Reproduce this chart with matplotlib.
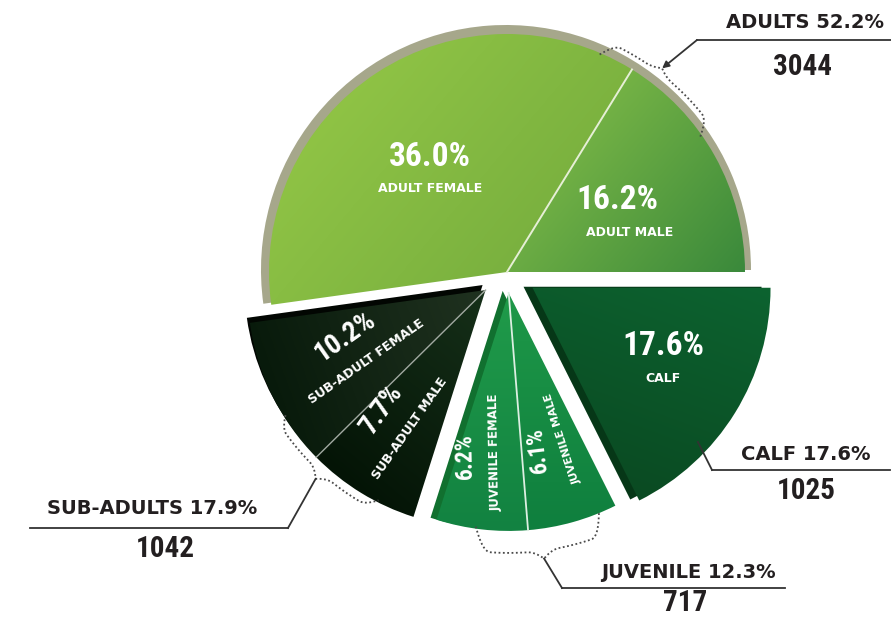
import numpy as np
import matplotlib
matplotlib.use("Agg")
import matplotlib.pyplot as plt
from matplotlib import font_manager as fm
from matplotlib.patches import Wedge
from matplotlib.colors import LinearSegmentedColormap

# population split, counter-clockwise from 3 o'clock
segments = ["ADULT MALE", "ADULT FEMALE", "SUB-ADULT FEMALE", "SUB-ADULT MALE",
            "JUVENILE FEMALE", "JUVENILE MALE", "CALF"]
shares = [16.2, 36.0, 10.2, 7.7, 6.2, 6.1, 17.6]
segment_group = ["ADULTS", "ADULTS", "SUB-ADULTS", "SUB-ADULTS",
                 "JUVENILE", "JUVENILE", "CALF"]

group_names = ["ADULTS", "SUB-ADULTS", "JUVENILE", "CALF"]
group_shares = [52.2, 17.9, 12.3, 17.6]
group_counts = [3044, 1042, 717, 1025]

W, H = 891, 617
CX, CY = 507, H - 272
R = 238

explode = {"ADULTS": 0, "SUB-ADULTS": 28, "JUVENILE": 21, "CALF": 30}
# (light, dark, gradient direction in degrees)
fills = {
    "ADULT MALE": ("#74b245", "#3a893b", -40),
    "ADULT FEMALE": ("#8fc345", "#7ab13f", -40),
    "SUB-ADULT FEMALE": ("#203220", "#081a0b", 200),
    "SUB-ADULT MALE": ("#163019", "#041406", 230),
    "JUVENILE FEMALE": ("#209b4a", "#128241", -90),
    "JUVENILE MALE": ("#1e9848", "#0f7f3e", -90),
    "CALF": ("#0d6330", "#0a4a22", -110),
}
# extruded side of each block: colour, shift, extra radius
sides = {
    "ADULTS": ("#a6a78b", (-1, 2), 7),
    "SUB-ADULTS": ("#020602", (-3, 5), 0),
    "JUVENILE": ("#11702f", (-6, 2), 0),
    "CALF": ("#063717", (-9, 1), 0),
}
divider = {"ADULTS": ("#e6efd6", 1.4), "SUB-ADULTS": ("#a2aaa2", 1.0),
           "JUVENILE": ("#dcefe2", 1.3)}


def pick(cands, **kw):
    for c in cands:
        try:
            fm.findfont(fm.FontProperties(family=c, **kw), fallback_to_default=False)
            return c
        except ValueError:
            continue
    return "DejaVu Sans"


num_font = pick(["Roboto Condensed", "Noto Sans Condensed", "Open Sans Condensed",
                 "Liberation Sans Narrow", "Liberation Sans"])
cond = dict(family=[num_font, "DejaVu Sans"], fontweight="bold")
plain = dict(family=["DejaVu Sans"], fontweight="bold")


def px(x, y):
    return x, H - y


def gradient_fill(ax, wedge, c0, c1, angle, z):
    ax.add_patch(wedge)
    cx, cy = wedge.center
    r = wedge.r
    x0, x1, y0, y1 = cx - r, cx + r, cy - r, cy + r
    xx, yy = np.meshgrid(np.linspace(x0, x1, 300), np.linspace(y0, y1, 300))
    ux, uy = np.cos(np.radians(angle)), np.sin(np.radians(angle))
    t = (xx - cx) * ux + (yy - cy) * uy
    v = wedge.get_path().vertices
    tv = (v[:, 0] - cx) * ux + (v[:, 1] - cy) * uy
    cmap = LinearSegmentedColormap.from_list("g", [c0, c1])
    im = ax.imshow(t, extent=(x0, x1, y0, y1), origin="lower", cmap=cmap,
                   vmin=tv.min(), vmax=tv.max(), zorder=z, interpolation="bilinear")
    im.set_clip_path(wedge)


def brace(center, a0, a1, am, lift, tip):
    th = np.linspace(a0, a1, 200)
    u = (th - a0) / (a1 - a0)
    um = (am - a0) / (a1 - a0)
    ramp = np.sin(np.clip(np.minimum(u, 1 - u) / 0.13, 0, 1) * np.pi / 2)
    peak = (1 - np.clip(np.abs(u - um) / 0.12, 0, 1)) ** 2
    r = R - 2 + lift * ramp + tip * peak
    xs = center[0] + r * np.cos(np.radians(th))
    ys = center[1] + r * np.sin(np.radians(th))
    rt = R - 2 + lift + tip
    cusp = (center[0] + rt * np.cos(np.radians(am)), center[1] + rt * np.sin(np.radians(am)))
    return xs, ys, cusp


fig = plt.figure(figsize=(W / 100, H / 100), dpi=100)
ax = fig.add_axes([0, 0, 1, 1])
ax.axis("off")

edges = np.concatenate([[0], np.cumsum(shares)]) * 3.6
centers = {}
spans = {}
for g in group_names:
    idx = [i for i, s in enumerate(segment_group) if s == g]
    a0, a1 = edges[idx[0]], edges[idx[-1] + 1]
    mid = np.radians((a0 + a1) / 2)
    d = explode[g]
    centers[g] = (CX + d * np.cos(mid), CY + d * np.sin(mid))
    spans[g] = (a0, a1)

# extruded sides behind each block
for g in group_names:
    col, (dx, dy), grow = sides[g]
    cx, cy = centers[g]
    a0, a1 = spans[g]
    ax.add_patch(Wedge((cx + dx, cy + dy), R + grow, a0, a1, facecolor=col,
                       edgecolor="none", zorder=1))

# shaded wedges
for i, name in enumerate(segments):
    g = segment_group[i]
    c0, c1, ang = fills[name]
    w = Wedge(centers[g], R, edges[i], edges[i + 1], facecolor="none", edgecolor="none")
    gradient_fill(ax, w, c0, c1, ang, 2)

# thin lines splitting each block
for i in range(1, len(segments)):
    g = segment_group[i]
    if segment_group[i - 1] != g:
        continue
    col, lw = divider[g]
    cx, cy = centers[g]
    a = np.radians(edges[i])
    ax.plot([cx, cx + R * np.cos(a)], [cy, cy + R * np.sin(a)], color=col, lw=lw, zorder=3)

# labels inside the wedges:
# (pct pos, pct size, pct rotation, name pos, name size, name rotation)
inside = {
    "ADULT FEMALE": ((430, 157), 24, 0, (430, 188), 9, 0),
    "ADULT MALE": ((617, 200), 24, 0, (630, 232), 9, 0),
    "SUB-ADULT FEMALE": ((345, 336), 20, 35, (366, 362), 9, 35),
    "SUB-ADULT MALE": ((381, 410), 20, 55, (410, 428), 9, 55),
    "JUVENILE FEMALE": ((465, 456), 17, 91, (495, 452), 8.5, 91),
    "JUVENILE MALE": ((538, 450), 17, 97, (563, 438), 8, 108),
    "CALF": ((663, 346), 24, 0, (663, 378), 9, 0),
}
for i, name in enumerate(segments):
    (p, ps, prot, n, ns, nrot) = inside[name]
    ax.text(*px(*p), f"{shares[i]:.1f}%", color="white", fontsize=ps, rotation=prot,
            ha="center", va="center", zorder=4, rotation_mode="anchor", **cond)
    ax.text(*px(*n), name, color="white", fontsize=ns, rotation=nrot,
            ha="center", va="center", zorder=4, rotation_mode="anchor", **plain)

# braces and leaders
dot = dict(color="#4a4a4a", lw=1.3, ls=(0, (1, 1.4)), zorder=5)
line = dict(color="#333333", lw=1.3, zorder=5)
ink = "#231f20"

bx, by, adult_tip = brace(centers["ADULTS"], 35, 67, 52.7, 15, 5)
ax.plot(bx, by, **dot)
bx, by, sub_tip = brace(centers["SUB-ADULTS"], 212, 243, 228, 10, 8)
ax.plot(bx, by, **dot)
bx, by, juv_tip = brace(centers["JUVENILE"], 262, 292.5, 277.6, 24, 8)
ax.plot(bx, by, **dot)

cx, cy = centers["CALF"]
calf_pt = (cx + 0.95 * R * np.cos(np.radians(317)), cy + 0.95 * R * np.sin(np.radians(317)))

callouts = {
    # name: (leader start, line end, text pos, count pos, target)
    "ADULTS": ((697, 40), (891, 40), (805, 22), (803, 67), adult_tip),
    "SUB-ADULTS": ((288, 528), (30, 528), (152, 509), (165, 549), sub_tip),
    "JUVENILE": ((562, 588), (785, 588), (688, 572), (685, 603), juv_tip),
    "CALF": ((712, 470), (890, 470), (806, 455), (806, 491), calf_pt),
}
for g, pct, cnt in zip(group_names, group_shares, group_counts):
    start, end, tp, cp, target = callouts[g]
    s = px(*start)
    e = px(*end)
    ax.plot([s[0], e[0]], [s[1], e[1]], **line)
    if g == "ADULTS":
        ax.annotate("", xy=target, xytext=s,
                    arrowprops=dict(arrowstyle="-|>", color="#333333", lw=1.3,
                                    mutation_scale=10, shrinkA=0, shrinkB=0), zorder=5)
    else:
        ax.plot([s[0], target[0]], [s[1], target[1]], **line)
    ax.text(*px(*tp), f"{g} {pct:.1f}%", color=ink, fontsize=14, ha="center",
            va="center", **plain)
    ax.text(*px(*cp), f"{cnt}", color=ink, fontsize=21, ha="center", va="center", **cond)

ax.set_xlim(0, W)
ax.set_ylim(0, H)
ax.set_aspect("auto")
fig.savefig("out.png", dpi=100, facecolor="white")
